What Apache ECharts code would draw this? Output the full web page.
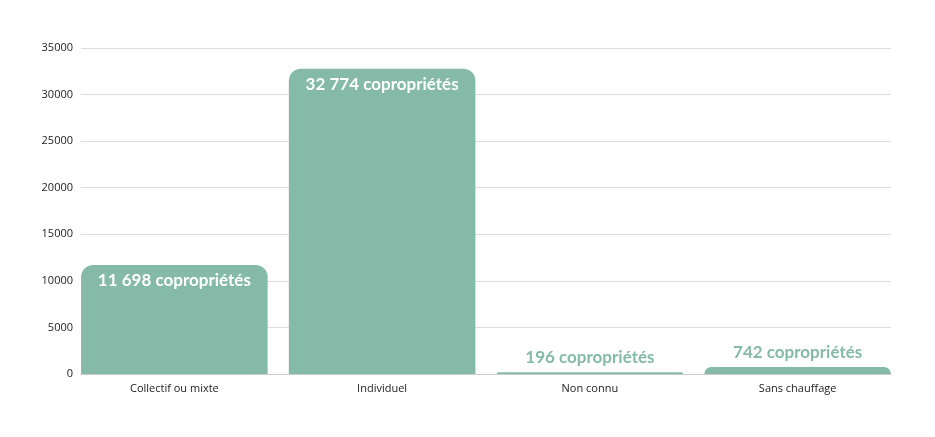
<!DOCTYPE html>
<html><head><meta charset="utf-8">
<script src="https://cdn.jsdelivr.net/npm/echarts@6/dist/echarts.min.js"></script>
<style>html,body{margin:0;padding:0;background:#fff}#c{width:935px;height:437px}</style>
</head><body><div id="c"></div>
<script>
const categories = ['Collectif ou mixte', 'Individuel', 'Non connu', 'Sans chauffage'];
const values = [11698, 32774, 196, 742];
const labelPositions = ['insideTop', 'insideTop', 'top', 'top'];
const yTicks = [0, 5000, 10000, 15000, 20000, 25000, 30000, 35000];

function fmt(v){ return String(v).replace(/\B(?=(\d{3})+(?!\d))/g, ' ') + ' copropriétés'; }

const yMin = yTicks[0], yMax = yTicks[yTicks.length-1];
const chart = echarts.init(document.getElementById('c'));
chart.setOption({
  animation: false,
  grid: [
    { left: 81, right: 44, top: 48, bottom: 63 },
    { left: 70.5, right: 33.5, top: 48, bottom: 63 }
  ],
  xAxis: [
    { type: 'category', gridIndex: 0, data: categories,
      axisLine: { lineStyle: { color: '#cccccc' } },
      axisTick: { show: false }, axisLabel: { show: false } },
    { type: 'category', gridIndex: 1, data: categories,
      axisLine: { show: false }, axisTick: { show: false },
      axisLabel: { color: '#222', fontFamily: 'Open Sans', fontSize: 11, margin: 9 } }
  ],
  yAxis: [
    { type: 'value', gridIndex: 0, min: yMin, max: yMax, interval: 5000,
      axisLine: { show: false }, axisTick: { show: false },
      splitLine: { lineStyle: { color: '#dddddd' } },
      axisLabel: { color: '#222', fontFamily: 'Open Sans', fontSize: 11, margin: 8,
                   formatter: v => String(v) } },
    { type: 'value', gridIndex: 1, min: yMin, max: yMax, interval: 5000, show: false,
      splitLine: { show: false } }
  ],
  series: [{
    type: 'bar', xAxisIndex: 1, yAxisIndex: 1, barCategoryGap: '10.2%',
    data: values.map((v, i) => {
      const inside = labelPositions[i] === 'insideTop';
      return {
        value: v,
        label: {
          show: true, position: labelPositions[i], distance: inside ? 7 : 6,
          color: inside ? '#ffffff' : '#84baa7',
          fontFamily: 'Lato', fontWeight: 'bold', fontSize: 17,
          formatter: p => fmt(p.value)
        }
      };
    }),
    itemStyle: { color: '#84baa7', borderRadius: [12, 12, 0, 0] }
  }]
});
</script></body></html>
